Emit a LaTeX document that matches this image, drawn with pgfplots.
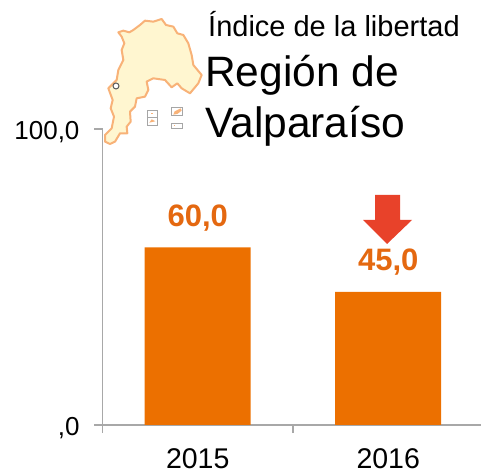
\documentclass[border=0pt]{standalone}
\usepackage{pgfplots}
\pgfplotsset{compat=1.18}
\usepackage{fontspec}
\setmainfont{Liberation Sans}
\definecolor{barc}{RGB}{236,112,0}
\definecolor{labc}{RGB}{228,104,16}
\definecolor{axc}{RGB}{168,168,168}
\definecolor{arrc}{RGB}{232,66,42}
\definecolor{mapf}{RGB}{255,246,208}
\definecolor{mapl}{RGB}{248,178,120}
\pgfplotstableread{
x y
0 60.0
1 45.0
}\datatable
\begin{document}
\begin{tikzpicture}[x=1pt,y=1pt]
\path[use as bounding box] (0,0) rectangle (481,473);
\begin{axis}[
  at={(102.5pt,48pt)}, anchor=south west,
  scale only axis, width=378.5pt, height=296pt,
  xmin=-0.5, xmax=1.487, ymin=0, ymax=100,
  axis x line=bottom, axis y line=left,
  axis line style={-, draw=axc, line width=1.8pt},
  tick style={draw=axc, line width=1.6pt},
  major tick length=8pt,
  tick align=outside,
  xtick={-0.5,0.5}, xticklabels={},
  extra x ticks={0,1}, extra x tick labels={2015,2016},
  extra x tick style={major tick length=0pt, tick style={draw=none},
     xticklabel style={font=\fontsize{28.5}{28.5}\selectfont, black, yshift=-20pt}},
  ytick={0,100}, yticklabels={{,0},{100,0}},
  yticklabel style={font=\fontsize{26}{26}\selectfont, black, yshift=-3.5pt, xshift=-11.5pt},
  ybar, bar width=106pt, bar shift=0pt,
  clip=false,
  nodes near coords,
  nodes near coords style={font=\bfseries\fontsize{31}{31}\selectfont, text=labc, anchor=center, yshift=29.5pt,
     /pgf/number format/.cd, fixed, fixed zerofill, precision=1, use comma, assume math mode=true},
]
\addplot[fill=barc, draw=none] table[x=x,y=y] {\datatable};
\end{axis}
% map illustration (pixel coordinates of the reference)
\begin{scope}[x=0.3333pt,y=-0.3333pt,shift={(90pt,473pt)}]
\draw[fill=mapf, draw=mapl, line width=2pt, line join=round]
 (85,97)--(100,92)--(118,97)--(130,90)--(150,75)--(165,62)--(190,65)--(215,57)--(228,75)--(250,80)--(262,100)--(280,105)--(295,130)--(305,165)--(310,195)--(335,225)--(325,250)--(300,280)--(275,265)--(262,250)--(245,262)--(225,240)--(190,235)--(170,245)--(175,270)--(165,290)--(140,295)--(135,320)--(120,335)--(122,365)--(110,380)--(112,400)--(90,400)--(75,425)--(60,432)--(45,425)--(45,405)--(65,385)--(72,350)--(62,325)--(68,300)--(55,265)--(80,240)--(85,210)--(100,180)--(95,150)--(103,130)--(95,110)--cycle;
\draw[fill=white, draw=black!65, line width=1pt] (78,258) circle (9);
\draw[draw=black!35, line width=1pt, fill=white] (172,332) rectangle (204,354);
\draw[draw=black!35, line width=1pt, fill=white] (172,354) rectangle (204,376);
\draw[draw=black!35, line width=1pt, fill=white] (246,322) rectangle (278,348);
\draw[draw=black!35, line width=1pt, fill=white] (246,370) rectangle (278,387);
\fill[mapl] (178,368)--(185,358)--(196,364)--cycle;
\fill[mapl] (184,338) rectangle (189,343);
\fill[mapl] (250,344)--(254,334)--(272,325)--(275,332)--(262,342)--cycle;
\fill[mapl] (252,376) rectangle (256,379);
\end{scope}
% down arrow
\begin{scope}[x=1pt,y=-1pt,shift={(0pt,473pt)}]
\fill[arrc] (375,195)--(400,195)--(400,220)--(412,220)--(387,244)--(363,220)--(375,220)--cycle;
\node[anchor=base west, inner sep=0pt, font=\fontsize{29}{29}\selectfont] at (208,37) {Índice de la libertad};
\node[anchor=base west, inner sep=0pt, font=\fontsize{42.5}{42.5}\selectfont] at (205,87) {Región de};
\node[anchor=base west, inner sep=0pt, font=\fontsize{42.5}{42.5}\selectfont] at (205,138) {Valparaíso};
\end{scope}
\end{tikzpicture}
\end{document}
